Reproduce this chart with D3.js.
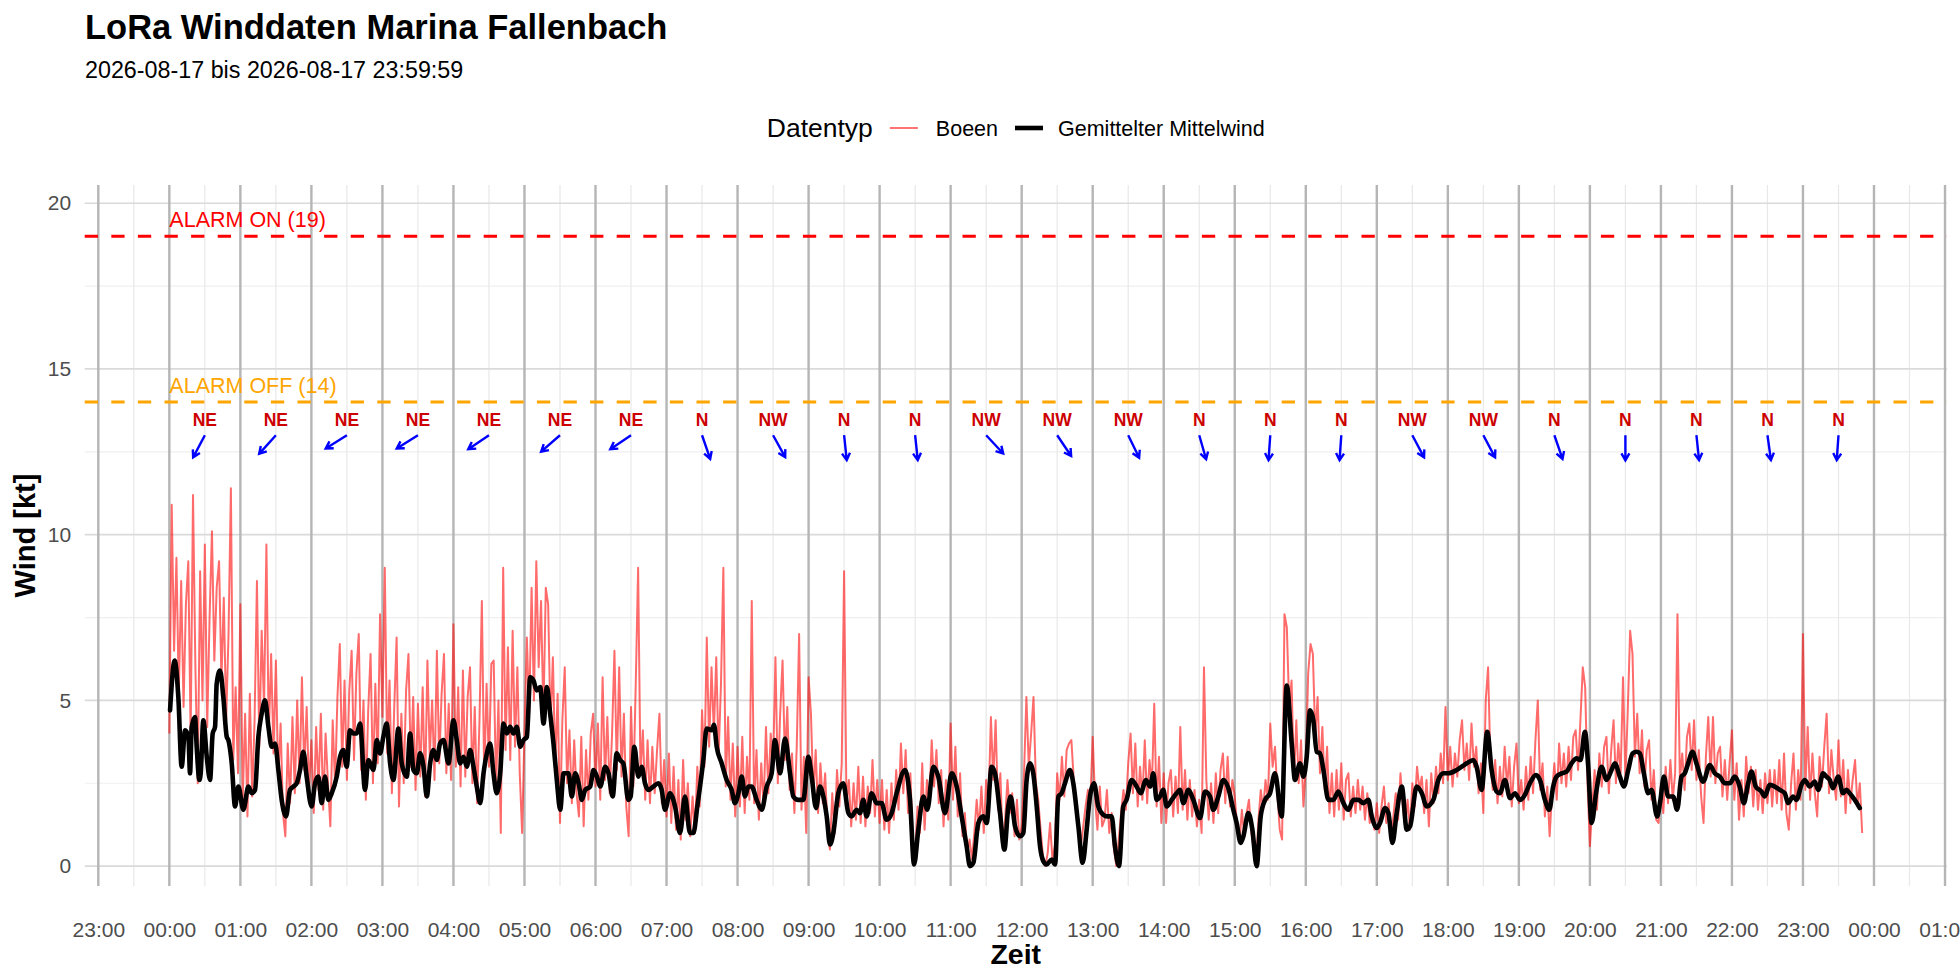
<!DOCTYPE html>
<html lang="de">
<head>
<meta charset="utf-8">
<title>LoRa Winddaten Marina Fallenbach</title>
<script src="https://cdn.jsdelivr.net/npm/d3@7"></script>
<style>
body { margin: 0; background: #fff; }
svg { font-family: "Liberation Sans", Arial, sans-serif; }
</style>
</head>
<body>
<script>
var w = 1960;
var h = 980;

var day = new Date(2026, 7, 17, 0, 0, 0);

var titleText = "LoRa Winddaten Marina Fallenbach";
var subtitleText = "2026-08-17 bis 2026-08-17 23:59:59";
var legendTitle = "Datentyp";
var seriesNames = ["Boeen", "Gemittelter Mittelwind"];

// gemittelter Mittelwind: [Minute des Tages, kt]
var meanWind = [
  [0.6,4.7],[4.5,6.2],[7.6,5.1],[10.4,3.0],[13.3,4.1],[16.1,3.9],[17.5,2.8],[18.9,4.2],[21.7,4.5],[23.1,3.6],[25.4,2.6],[26.5,2.8],[28.7,4.4],[31.6,3.3],[34.4,2.6],[36.6,4.0],[38.6,4.2],[40.0,5.5],[42.8,5.9],[45.6,5.1],[48.5,3.9],[49.9,3.8],[52.7,3.1],[55.5,1.8],[58.3,2.4],
  [62.5,1.7],[66.8,2.4],[69.6,2.2],[72.4,2.3],[75.2,3.9],[78.0,4.6],[80.8,5.0],[83.7,4.2],[86.5,3.6],[89.3,3.7],[92.1,2.9],[94.9,2.0],[98.6,1.5],[101.9,2.3],[104.8,2.4],[107.6,2.5],[110.4,2.9],[113.2,3.45],[116.0,2.7],
  [120.2,1.8],[123.1,2.5],[125.9,2.7],[128.7,1.9],[131.5,2.7],[134.3,2.0],[137.2,2.2],[141.4,2.7],[144.2,3.3],[147.0,3.5],[149.8,3.0],[152.6,4.1],[155.5,4.0],[158.3,4.0],[161.1,4.3],[165.3,2.3],[168.1,3.2],[172.4,2.9],[175.2,3.8],[178.0,3.4],
  [180.8,3.9],[183.6,4.3],[186.5,3.1],[189.3,2.6],[193.5,4.15],[196.3,3.1],[200.6,2.7],[203.4,4.0],[206.2,2.9],[209.0,2.8],[211.8,3.4],[214.7,3.0],[217.5,2.1],[220.3,3.1],[223.1,3.5],[225.9,3.2],[228.7,3.7],[231.6,3.8],[235.8,3.1],
  [240.0,4.4],[242.8,3.8],[245.7,3.1],[248.5,3.3],[251.3,3.0],[254.1,3.5],[256.9,3.0],[259.7,2.4],[262.6,1.9],[265.4,2.8],[268.2,3.4],[271.0,3.7],[273.8,2.8],[276.6,2.2],[279.5,2.8],[282.3,4.3],[285.1,4.0],[287.9,4.2],[290.7,4.0],[293.5,4.2],[296.4,3.6],[299.2,3.8],
  [302.0,3.9],[304.8,5.7],[307.6,5.6],[310.4,5.3],[313.3,5.4],[316.1,4.3],[318.9,5.4],[321.7,4.6],[324.5,3.7],[327.3,2.6],[330.2,1.7],[333.0,2.8],[337.2,2.8],[340.0,2.1],[342.8,2.8],[345.7,2.5],[348.5,2.0],[351.3,2.3],[355.5,2.4],[358.3,2.9],[361.2,2.7],[364.0,2.4],[368.2,3.0],[371.0,2.8],
  [374.5,2.1],[377.9,3.4],[380.7,3.2],[383.5,3.1],[387.7,2.0],[389.7,2.1],[392.8,3.6],[396.2,2.7],[399.0,3.0],[401.8,2.5],[404.6,2.3],[408.8,2.4],[413.1,2.5],[415.9,2.3],[418.7,1.7],
  [422.9,2.2],[427.2,1.8],[431.4,1.0],[435.6,2.1],[439.8,1.0],[442.7,1.0],[446.0,1.8],[451.1,3.2],[453.9,4.15],[458.1,4.1],[460.1,4.26],[462.4,3.6],[466.6,3.1],[470.8,2.6],[475.0,2.3],[477.8,1.9],
  [480.7,2.2],[483.5,2.7],[486.3,2.1],[489.1,2.4],[491.9,2.4],[496.1,2.0],[500.4,1.7],[504.6,2.4],[508.8,2.8],[511.6,3.8],[515.9,2.8],[520.1,3.85],[524.3,2.8],[527.1,2.1],[531.3,2.0],[535.6,2.0],
  [539.8,3.3],[542.6,2.7],[546.3,1.75],[549.6,2.4],[552.5,2.1],[555.3,1.5],[558.1,0.65],[560.9,1.0],[565.1,2.2],[569.3,2.5],[573.6,1.6],[576.4,1.5],[580.6,1.7],[583.4,1.6],[586.2,2.0],[589.0,1.5],[593.3,2.2],[597.5,1.9],
  [601.7,1.9],[605.9,1.4],[610.2,1.6],[614.4,2.2],[621.4,2.9],[625.7,2.0],[629.1,0.05],[632.7,1.1],[636.9,2.1],[640.3,1.7],[645.4,3.0],[649.6,2.7],[655.2,1.6],
  [660.9,2.8],[665.1,2.4],[669.3,1.5],[673.5,0.6],[676.3,0.0],[679.2,0.1],[683.4,1.3],[687.6,1.5],[690.4,1.3],[694.6,3.0],[697.5,2.8],[701.7,1.6],[705.4,0.5],[708.7,1.8],[710.7,2.1],[714.4,1.2],[718.6,0.9],
  [721.4,1.0],[724.2,2.6],[727.1,3.1],[729.8,2.8],[732.7,1.8],[735.5,0.6],[738.3,0.15],[741.1,0.05],[745.3,0.2],[748.2,0.05],[751.0,2.1],[753.8,2.2],[756.6,2.5],[760.8,2.9],[763.6,2.5],[767.9,1.2],[771.5,0.1],[774.9,1.1],[777.7,2.1],
  [781.1,2.5],[784.7,1.8],[788.9,1.55],[792.3,1.5],[796.0,1.5],[798.8,0.6],[802.2,0.0],[805.8,1.8],[808.6,2.0],[812.9,2.6],[817.1,2.4],[820.5,2.2],[825.0,2.6],[828.4,2.4],[831.2,2.8],[834.0,2.0],[836.8,2.1],
  [839.6,2.3],[842.5,1.8],[846.7,2.0],[850.9,2.2],[853.7,2.3],[856.6,1.9],[860.8,2.3],[865.0,2.0],[870.7,1.45],[874.9,2.25],[879.1,2.1],[881.9,1.7],[886.1,2.1],[890.4,2.6],[894.6,2.35],[898.8,1.7],
  [901.6,1.3],[905.0,0.7],[907.3,0.9],[911.5,1.6],[914.9,1.1],[918.5,0.0],[921.9,1.5],[925.6,2.0],[929.8,2.2],[934.0,2.8],[939.6,1.5],[943.9,5.45],[948.1,3.7],[950.9,2.6],[955.1,3.1],[958.0,2.7],
  [960.8,3.3],[963.6,4.7],[966.4,4.4],[969.2,3.45],[972.0,3.4],[974.9,2.9],[979.1,2.0],[983.3,2.0],[987.5,2.25],[991.8,1.9],[996.0,1.7],[1000.2,2.0],[1004.4,2.0],[1008.7,1.9],[1012.9,2.0],[1015.7,1.5],
  [1019.9,1.15],[1022.7,1.3],[1027.0,1.75],[1029.8,1.6],[1033.2,0.7],[1036.8,1.6],[1041.1,2.4],[1045.3,1.1],[1048.1,1.2],[1053.7,2.4],[1058.0,2.2],[1062.2,1.8],[1067.8,2.0],[1072.0,2.6],[1076.3,2.8],
  [1080.5,2.8],[1087.5,2.9],[1096.0,3.1],[1101.5,3.2],[1104.3,3.0],[1108.5,2.3],[1113.3,4.05],[1117.0,2.9],[1121.2,2.25],[1124.0,2.2],[1128.2,2.6],[1132.5,2.05],[1136.7,2.2],
  [1140.9,2.0],[1145.1,2.15],[1149.3,2.5],[1154.4,2.75],[1157.8,2.6],[1162.0,2.0],[1165.7,1.7],[1169.0,2.4],[1171.8,2.7],[1176.1,2.8],[1180.3,2.85],[1184.5,3.1],[1188.7,3.25],[1192.1,3.2],[1195.8,4.05],[1198.6,3.0],
  [1201.4,1.3],[1205.6,2.3],[1209.8,3.0],[1214.1,2.6],[1218.3,2.9],[1221.1,3.1],[1225.3,2.7],[1228.7,2.4],[1232.4,2.9],[1236.0,3.4],[1239.4,3.45],[1242.2,3.4],[1245.6,2.8],[1249.2,2.2],[1252.1,2.3],[1256.8,1.5],
  [1259.6,2.0],[1262.5,2.7],[1266.1,2.1],[1270.3,2.1],[1273.7,1.7],[1277.4,2.7],[1280.2,2.8],[1283.0,3.1],[1286.7,3.45],[1290.0,3.1],[1295.7,2.55],[1301.3,3.05],[1305.5,2.8],[1309.7,2.7],[1314.0,2.5],[1318.2,2.5],
  [1322.4,2.7],[1326.6,2.4],[1330.0,1.9],[1333.7,2.5],[1336.5,2.85],[1340.1,2.4],[1344.9,2.25],[1347.7,2.1],[1351.9,2.45],[1356.2,2.4],[1360.4,2.3],[1364.6,2.2],[1367.4,1.9],[1371.7,2.1],[1374.5,2.0],[1378.7,2.45],
  [1381.5,2.6],[1385.7,2.4],[1389.9,2.55],[1392.8,2.3],[1397.0,2.8],[1399.8,2.7],[1402.6,2.6],[1405.4,2.35],[1409.7,2.7],[1413.9,2.2],[1416.7,2.3],[1419.5,2.2],[1423.7,2.0],[1428.0,1.75]
];

// Boeen alle 2 Minuten, eine Zeile pro Stunde (00 .. 23 Uhr)
var gustStep = 2;
var gustRows = [
  [4.0,10.9,6.5,9.3,5.2,8.6,4.8,7.9,9.2,3.9,11.2,6.0,2.5,8.9,5.0,9.7,4.2,7.5,10.1,6.2,8.4,9.2,5.6,8.1,4.4,7.0,11.4,3.2,5.4,2.8],
  [7.9,2.0,4.6,1.5,5.2,2.1,4.4,8.6,3.6,7.1,4.8,9.7,3.9,6.4,3.4,6.2,2.6,4.3,1.6,0.9,3.7,1.9,4.5,2.2,5.0,2.5,5.7,2.9,4.8,2.3],
  [3.8,1.6,4.2,2.3,4.6,1.7,4.0,2.5,1.2,4.4,2.4,5.1,6.7,3.0,5.6,2.6,5.3,6.5,3.2,5.8,7.0,2.9,5.0,2.0,4.7,6.4,2.5,5.5,3.1,7.6],
  [4.5,9.0,3.4,5.6,2.2,4.8,6.9,1.8,4.6,2.5,5.3,6.4,3.0,5.1,2.3,4.9,2.7,5.4,2.1,6.2,3.3,5.0,2.6,6.5,3.1,5.2,6.4,2.8,4.9,2.6],
  [7.3,3.0,5.4,2.4,5.9,2.7,5.1,6.0,2.5,4.8,1.9,4.4,8.0,2.6,5.5,3.0,6.1,6.2,2.3,5.0,1.0,9.0,3.5,6.6,3.2,7.1,3.6,6.0,2.8,1.0],
  [4.0,6.9,4.6,8.4,5.0,9.2,6.0,8.0,4.5,8.4,7.9,4.2,6.3,3.0,5.2,1.3,4.4,6.0,2.5,4.1,1.9,3.8,2.2,1.5,3.9,1.2,3.5,2.0,4.0,4.6],
  [2.4,4.3,2.0,5.7,2.6,4.5,2.2,4.0,6.5,2.9,6.0,2.7,4.6,1.8,0.9,4.8,2.4,5.5,9.0,2.8,4.1,2.0,3.8,1.9,3.6,2.2,3.5,4.6,1.9,3.2],
  [1.5,3.4,1.3,3.0,1.1,2.6,0.8,3.2,1.4,2.5,0.9,2.1,1.0,3.0,1.8,4.7,3.0,6.9,3.6,6.0,4.0,6.3,3.3,5.5,9.0,2.4,4.5,2.0,3.7,1.5],
  [3.6,1.8,3.9,1.6,3.3,2.0,8.0,1.9,3.5,1.4,3.1,1.8,4.2,2.2,4.0,3.0,6.3,2.5,4.6,6.2,3.2,4.8,2.3,3.4,1.6,3.6,7.0,1.7,3.3,1.0],
  [5.7,4.6,2.1,3.5,1.6,3.1,1.9,2.8,1.1,0.5,2.2,1.0,2.9,1.8,3.1,8.9,1.9,2.6,1.2,2.5,1.4,3.0,1.3,2.7,1.2,2.4,1.6,3.2,1.5,2.6],
  [1.3,2.6,1.1,2.3,1.0,2.5,1.4,2.9,1.7,3.7,2.2,3.5,1.6,2.8,0.6,0.4,1.8,1.0,3.1,1.1,2.6,1.9,3.8,2.4,3.5,1.9,2.9,1.2,2.6,1.4],
  [4.3,2.0,3.6,1.5,2.8,0.9,1.6,0.4,0.8,0.2,1.0,2.0,1.1,2.4,1.0,2.6,1.8,4.5,2.6,4.4,1.7,2.8,0.6,1.4,2.6,1.6,2.2,0.9,2.0,0.8],
  [1.2,2.8,5.1,3.0,4.0,5.1,2.5,2.0,1.1,0.3,0.0,0.4,1.3,0.2,0.6,2.8,2.0,3.3,2.1,3.5,3.7,3.8,2.6,1.9,1.4,0.6,1.2,1.8,2.3,1.9],
  [3.9,2.0,1.1,2.4,1.2,1.4,2.3,1.0,1.6,0.5,0.0,0.8,1.6,2.3,1.7,3.1,4.0,2.2,3.7,1.8,3.0,2.0,3.8,1.9,3.2,2.4,4.9,1.8,3.3,1.3],
  [2.8,1.3,2.5,2.9,1.5,2.7,1.6,4.2,1.7,2.9,1.4,2.6,1.5,2.3,1.2,2.0,1.0,6.0,2.6,1.4,2.5,1.3,2.8,1.6,2.9,3.4,1.9,3.3,1.8,2.6],
  [2.1,1.2,0.7,1.7,0.9,1.6,2.0,1.0,0.5,0.0,1.4,2.3,1.7,2.6,2.0,4.3,3.0,3.6,2.2,1.1,0.8,7.6,7.2,4.8,5.6,2.6,4.4,2.5,3.8,1.8],
  [3.0,5.8,6.7,6.4,3.9,5.1,2.8,4.2,2.3,3.6,1.6,2.8,1.5,2.9,1.7,3.1,1.4,2.6,2.8,1.5,2.4,1.6,2.6,1.7,2.4,1.4,2.2,1.3,1.6,1.1],
  [1.9,1.0,1.8,2.4,1.3,1.9,0.8,1.5,2.2,1.4,2.8,1.8,1.2,2.0,1.1,2.5,1.8,3.0,2.3,2.7,1.6,2.6,1.2,2.8,1.9,3.0,2.2,3.4,2.5,4.8],
  [2.6,3.6,2.4,3.4,2.7,3.8,4.4,2.9,3.7,2.6,4.3,3.0,3.6,2.2,3.1,1.6,5.0,6.0,3.1,2.3,3.2,1.9,3.0,2.1,3.6,2.4,3.3,1.8,3.0,3.7],
  [1.9,2.6,1.7,3.0,2.0,3.3,2.2,3.8,5.0,2.3,3.1,1.5,2.4,0.9,2.2,3.1,2.0,3.7,2.5,3.4,2.4,3.6,2.6,3.9,4.1,2.9,4.4,6.0,5.4,2.5],
  [0.6,1.8,2.9,1.7,3.4,2.4,3.6,3.9,2.2,3.5,4.4,2.5,3.7,2.8,5.7,2.6,4.7,7.1,6.4,3.3,4.6,2.8,4.1,2.4,3.5,3.8,2.0,2.9,1.4,1.3],
  [2.5,1.6,3.0,1.9,3.2,2.0,2.8,7.6,2.6,3.4,2.3,3.9,4.3,2.9,4.4,2.6,3.5,2.1,1.3,3.3,4.5,2.7,4.5,2.5,3.4,3.6,2.1,3.2,2.0,3.1],
  [4.1,2.0,3.1,1.4,2.6,1.5,3.3,2.2,3.0,1.8,2.9,1.7,2.6,1.6,2.8,1.9,2.9,1.8,2.9,1.9,3.2,1.7,3.4,1.6,1.1,2.5,3.4,1.7,2.9,2.0],
  [7.0,2.3,4.2,2.0,3.4,2.2,1.5,3.3,2.4,3.6,4.6,2.2,3.5,2.6,2.0,3.8,2.1,3.2,1.6,2.9,1.9,2.6,3.2,1.8,2.5,1.0]
];

// Windrichtung je Stunde (Anzeige um hh:30)
var dirHours = [0,1,2,3,4,5,6,7,8,9,10,11,12,13,14,15,16,17,18,19,20,21,22,23];
var dirNames = ["NE","NE","NE","NE","NE","NE","NE","N","NW","N","N","NW","NW","NW","N","N","N","NW","NW","N","N","N","N","N"];
var dirDegrees = [28,42,58,58,56,49,56,341,331,354,354,317,326,334,344,4,4,332,332,341,0,354,352,4];

var alarmLevels = [19, 14];
var alarmNames = ["ALARM ON (19)", "ALARM OFF (14)"];
var alarmColors = ["#ff0000", "#ffa500"];

var yTicks = [0, 5, 10, 15, 20];
var yMinor = [2.5, 7.5, 12.5, 17.5];

function tm(m) { return new Date(day.getTime() + m * 60000); }

var gust = [];
gustRows.forEach(function (row, hr) {
  row.forEach(function (v, i) {
    gust.push({ t: tm(hr * 60 + i * gustStep), v: v });
  });
});
var mean = meanWind.map(function (d) { return { t: tm(d[0]), v: d[1] }; });

// plot area (window.top is reserved, so own names)
var pLeft = 84.7, pRight = 1946.8, pTop = 185, pBottom = 886;

var xScale = d3.scaleTime()
  .domain([tm(-71.5), tm(1501.5)])
  .range([pLeft, pRight]);
var yScale = d3.scaleLinear()
  .domain([-0.6, 20.55])
  .range([pBottom, pTop]);

var svg = d3.select("body").append("svg")
  .attr("width", w)
  .attr("height", h);

// titles
svg.append("text").attr("x", 85).attr("y", 39)
  .style("font-size", "34.5px").style("font-weight", "bold").attr("fill", "#000")
  .text(titleText);
svg.append("text").attr("x", 85).attr("y", 78)
  .style("font-size", "23.3px").attr("fill", "#000")
  .text(subtitleText);

// grid
var hours = d3.timeHour.range(tm(-60), tm(1501));
var halfHours = d3.timeMinute.every(30).range(tm(-60), tm(1501))
  .filter(function (d) { return d.getMinutes() === 30; });

var grid = svg.append("g");
grid.selectAll(".hminor").data(yMinor).enter().append("line")
  .attr("x1", pLeft).attr("x2", pRight)
  .attr("y1", function (d) { return yScale(d); })
  .attr("y2", function (d) { return yScale(d); })
  .attr("stroke", "#efefef").attr("stroke-width", 1.2);
grid.selectAll(".vminor").data(halfHours).enter().append("line")
  .attr("x1", function (d) { return xScale(d); })
  .attr("x2", function (d) { return xScale(d); })
  .attr("y1", pTop).attr("y2", pBottom)
  .attr("stroke", "#e8e8e8").attr("stroke-width", 1.2);
grid.selectAll(".hmajor").data(yTicks).enter().append("line")
  .attr("x1", pLeft).attr("x2", pRight)
  .attr("y1", function (d) { return yScale(d); })
  .attr("y2", function (d) { return yScale(d); })
  .attr("stroke", "#dadada").attr("stroke-width", 1.7);
grid.selectAll(".vmajor").data(hours).enter().append("line")
  .attr("x1", function (d) { return xScale(d); })
  .attr("x2", function (d) { return xScale(d); })
  .attr("y1", pTop).attr("y2", pBottom)
  .attr("stroke", "#b5b5b5").attr("stroke-width", 2.4);

// axes
var xAxis = d3.axisBottom(xScale)
  .tickValues(hours)
  .tickFormat(d3.timeFormat("%H:%M"))
  .tickSize(0)
  .tickPadding(36);
var yAxis = d3.axisLeft(yScale)
  .tickValues(yTicks)
  .tickSize(0)
  .tickPadding(13.5);

var gx = svg.append("g")
  .attr("transform", "translate(0," + pBottom + ")")
  .call(xAxis);
var gy = svg.append("g")
  .attr("transform", "translate(" + pLeft + ",0)")
  .call(yAxis);
[gx, gy].forEach(function (g) {
  g.select(".domain").remove();
  g.selectAll("text")
    .style("font-size", "21px")
    .style("font-family", "'Liberation Sans', Arial, sans-serif")
    .attr("fill", "#4d4d4d");
});

svg.append("text")
  .attr("x", (pLeft + pRight) / 2).attr("y", 964)
  .attr("text-anchor", "middle")
  .style("font-size", "28.5px").style("font-weight", "bold")
  .text("Zeit");
svg.append("text")
  .attr("transform", "translate(35," + (pTop + pBottom) / 2 + ") rotate(-90)")
  .attr("text-anchor", "middle")
  .style("font-size", "29px").style("font-weight", "bold")
  .text("Wind [kt]");

// alarm thresholds
var plot = svg.append("g");
plot.selectAll(".alarm").data(alarmLevels).enter().append("line")
  .attr("x1", pLeft).attr("x2", pRight)
  .attr("y1", function (d) { return yScale(d); })
  .attr("y2", function (d) { return yScale(d); })
  .attr("stroke", function (d, i) { return alarmColors[i]; })
  .attr("stroke-width", 3)
  .attr("stroke-dasharray", "13.3,13.3");
plot.selectAll(".alarmtxt").data(alarmLevels).enter().append("text")
  .attr("x", xScale(tm(0)))
  .attr("y", function (d) { return yScale(d + 0.5); })
  .attr("dy", "0.35em")
  .style("font-size", "21.5px")
  .attr("fill", function (d, i) { return alarmColors[i]; })
  .text(function (d, i) { return alarmNames[i]; });

// Boeen
var line = d3.line()
  .x(function (d) { return xScale(d.t); })
  .y(function (d) { return yScale(d.v); });
plot.append("path")
  .datum(gust)
  .attr("d", line)
  .attr("fill", "none")
  .attr("stroke", "#ff0000")
  .attr("stroke-opacity", 0.58)
  .attr("stroke-width", 2)
  .attr("stroke-linejoin", "round");

// Mittelwind
plot.append("path")
  .datum(mean)
  .attr("d", line.curve(d3.curveMonotoneX))
  .attr("fill", "none")
  .attr("stroke", "#000")
  .attr("stroke-width", 4.6)
  .attr("stroke-linejoin", "round")
  .attr("stroke-linecap", "round");

// wind direction labels + arrows
var arrowMin = 21.1, arrowKt = 0.755, arrowY = 13.0;
var dirs = dirHours.map(function (hr, i) {
  var m = hr * 60 + 30;
  var a = (dirDegrees[i] + 180) * Math.PI / 180;
  return {
    name: dirNames[i],
    x1: xScale(tm(m)), y1: yScale(arrowY),
    x2: xScale(tm(m + Math.sin(a) * arrowMin)), y2: yScale(arrowY + Math.cos(a) * arrowKt)
  };
});
plot.selectAll(".dirtxt").data(dirs).enter().append("text")
  .attr("x", function (d) { return d.x1; })
  .attr("y", yScale(13.45))
  .attr("dy", "0.35em")
  .attr("text-anchor", "middle")
  .style("font-size", "17.5px").style("font-weight", "bold")
  .attr("fill", "#cd0000")
  .text(function (d) { return d.name; });
plot.selectAll(".arrow").data(dirs).enter().append("path")
  .attr("d", function (d) {
    var ang = Math.atan2(d.y2 - d.y1, d.x2 - d.x1);
    var hl = 8, ha = Math.PI / 6;
    var p = "M" + d.x1 + "," + d.y1 + "L" + d.x2 + "," + d.y2;
    p += "M" + (d.x2 - hl * Math.cos(ang - ha)) + "," + (d.y2 - hl * Math.sin(ang - ha));
    p += "L" + d.x2 + "," + d.y2;
    p += "L" + (d.x2 - hl * Math.cos(ang + ha)) + "," + (d.y2 - hl * Math.sin(ang + ha));
    return p;
  })
  .attr("fill", "none")
  .attr("stroke", "#0000ff")
  .attr("stroke-width", 2.4)
  .attr("stroke-linejoin", "miter");

// legend
var legend = svg.append("g");
var lx = 0, ly = 128;
var lt = legend.append("text").attr("x", lx).attr("y", ly).attr("dy", "0.35em")
  .style("font-size", "26.5px").text(legendTitle);
lx += lt.node().getComputedTextLength() + 17;
var keyStyles = [
  { stroke: "#ff0000", opacity: 0.55, width: 2 },
  { stroke: "#000", opacity: 1, width: 4.6 }
];
seriesNames.forEach(function (name, i) {
  legend.append("line")
    .attr("x1", lx).attr("x2", lx + 28)
    .attr("y1", ly).attr("y2", ly)
    .attr("stroke", keyStyles[i].stroke)
    .attr("stroke-opacity", keyStyles[i].opacity)
    .attr("stroke-width", keyStyles[i].width);
  lx += 28 + (i === 0 ? 18 : 15);
  var t = legend.append("text").attr("x", lx).attr("y", ly).attr("dy", "0.35em")
    .style("font-size", "21.5px").text(name);
  lx += t.node().getComputedTextLength() + 17;
});
lx -= 17;
legend.attr("transform", "translate(" + ((pLeft + pRight) / 2 - lx / 2) + ",0)");
</script>
</body>
</html>
